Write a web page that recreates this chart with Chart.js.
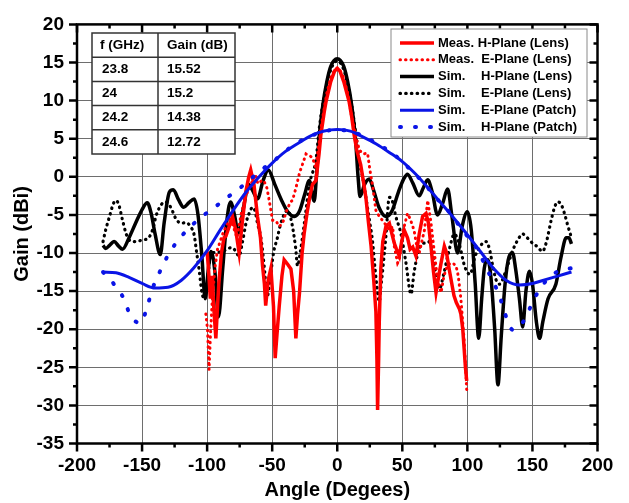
<!doctype html>
<html lang="en">
<head>
<meta charset="utf-8">
<title>Gain vs Angle</title>
<script src="https://cdn.jsdelivr.net/npm/chart.js@4.4.1/dist/chart.umd.min.js"></script>
<style>
  html, body { margin: 0; padding: 0; background: #fff; }
  #wrap { width: 629px; height: 503px; }
</style>
</head>
<body>
<div id="wrap"><canvas id="c" width="629" height="503"></canvas></div>
<script>
// ---- data ----
const freqs = ['23.8', '24', '24.2', '24.6'];
const peakGains = ['15.52', '15.2', '14.38', '12.72'];

// Meas. H-Plane (Lens)
const measHAng = [-100,-99,-97.5,-96,-95,-93.3,-92,-91,-89,-87,-85.6,-83,-80.5,-78,-75.4,-73,-70.3,-68,-66.5,-64,-61.3,-59,-57.4,-56,-55,-53,-51,-49,-47.7,-46,-44.6,-42.5,-40.8,-38,-35.6,-33.5,-31.8,-30.5,-29,-27,-25.4,-23,-21,-19,-16.4,-14,-12.6,-10,-8.7,-5,-2,0,2,5,9.2,11,13,15,18,20,22,24,26,28,29.7,30.5,31,31.8,32.3,33.5,35,37.4,40,42,43.8,45.5,47.7,49.5,51.5,54,56,58,60.5,63,65.6,68.2,70,72,74,75.9,78,79.8,82.3,84,86,88,89.7,91.5,93.8,95,96.4,97.5,98.5,99.5];
const measHGain = [-9.8,-12,-16,-13,-16.9,-21.2,-17,-14,-10,-8,-7.8,-6.5,-5.2,-7,-10,-6,-2,0,0.9,-1,-5.2,-8,-11.7,-14,-16.9,-13.5,-12,-17,-23.8,-20,-17,-13,-10.9,-11.5,-12.1,-15,-21.2,-18,-15.2,-10,-7.4,-4.5,-2.5,-1,-0.5,3,5.5,8.5,9.8,12.5,13.9,14.2,13.9,12.5,9.8,8,5.5,3.5,1.6,-0.5,-2.7,-6,-9.1,-13.5,-17.7,-24,-30.6,-24,-19,-12,-8.5,-6.5,-6.1,-7.5,-8.7,-9.5,-10.4,-8.5,-7,-8,-9.5,-9.2,-10.4,-7.5,-5.2,-4.8,-6,-9.1,-12.5,-15.2,-13,-11.3,-9.1,-10,-12.1,-14,-15.6,-16.5,-17.3,-18,-19.9,-22.5,-25,-26.8];

// Meas. E-Plane (Lens)
const measEAng = [-101,-99.7,-98.5,-97.5,-96,-94,-92,-90,-87,-85,-83,-80,-77,-74,-71,-68,-65,-63,-61,-58,-56.4,-54,-52.3,-49.7,-47,-44.6,-42,-39,-36,-34.4,-31.8,-29,-26,-24,-21.5,-19,-16.5,-14,-11,-8,-5,-2,0,2,5,8,11,14,17,20,23.3,25,27,29.7,32.3,36,40,42.6,43.8,46.4,47.7,50,54,56,59,61,63,65,67,69.5,72,75,77,79.8,82,85,88.7,91.3,93,95,96.4,97.5,98.5,99.5];
const measEGain = [-18,-20,-25.3,-21,-16,-12,-9.5,-8.5,-7,-6.5,-5.2,-6.5,-8,-5,-3,-1.5,-0.5,0.3,-0.9,-0.5,-0.5,-1.5,-3.1,-5.7,-5.8,-6.5,-6.1,-4.5,-3.3,-3.1,-1.5,0.5,2,3,2.8,2.5,1.2,4.5,8,11,13,14,14.3,14,13,11,8,5.5,3.5,3,3.1,1,-1,-4.4,-5.2,-6,-7,-6.5,-9.1,-11.3,-10.9,-7.5,-4.8,-5.5,-7,-9,-10,-8.5,-7,-3.1,-6,-10.5,-13.4,-15.2,-13,-11.5,-11.3,-11.7,-13,-16,-19,-21.5,-24.5,-28];

// Sim. H-Plane (Lens)
const simHAng = [-180,-178,-175,-171.5,-168,-165,-160,-155,-150,-146,-143,-140,-136,-133,-129,-126,-122,-118,-114,-110,-107,-104,-101.5,-99,-97,-94,-91.3,-88,-85,-82,-79,-76,-72,-68,-65,-61.3,-57,-53,-48,-43,-38,-33,-29,-25,-21.5,-17.7,-16,-14,-11,-8,-5,0,5,8,11,14,16,17.5,21,24.6,28,32,37.4,42,47,51,54,58,63,66,69.5,73,77,81,84.8,88,92.5,96,100,103,106,108.7,111,113,115.6,118,121,123.5,126,129,132,134.8,137,140,142.5,145,147.7,150,153,155.5,158,162,168,172,176,178,180];
const simHGain = [-9,-9.4,-9,-8.5,-9.1,-9.5,-8,-6.1,-4.3,-3.4,-4.8,-7.5,-10.2,-6,-2,-1.7,-3,-4,-3.4,-2.9,-5,-10.5,-16,-12,-9.8,-12.5,-18.4,-12,-6,-3.3,-5,-7.4,-4,-1,-1.8,-2.9,-0.5,0.9,-1,-3,-4.6,-5.2,-4.5,-2.3,-0.5,-3.2,0,5,9.5,12.5,14.5,15.5,14.5,12.5,9.5,5,0,-2.6,-1,-0.3,-1.8,-4,-5.2,-4.5,-2,-0.3,0.35,-0.8,-2.5,-1.5,-0.4,-2,-5,-3.5,-1.6,-5,-10,-6.5,-4.6,-7,-14,-21.2,-16,-12,-10.9,-13,-20,-27.3,-21,-14,-10.5,-10,-12,-16,-19.7,-15,-12.4,-14,-19,-21.2,-19,-16,-14.1,-10.5,-8,-8,-8.8];

// Sim. E-Plane (Lens)
const simEAng = [-180,-178,-175,-172,-170,-168,-165,-162,-159,-155,-150,-145,-142,-139,-135,-132,-128,-124,-120,-116,-113,-110,-108,-106,-104,-102,-100,-98,-96,-92,-88,-84,-80.5,-78,-75.4,-73,-70,-67.7,-65,-63,-61.3,-58.7,-56,-54,-52,-49,-46,-44,-41,-38,-35,-32,-30.5,-28.5,-26,-24,-21.5,-19,-16.4,-13.8,-10,-6,-3,0,3,6,10,14,17,20,22,25,27,29,31,32.3,33.5,35,37.4,40,42,45,49,52.8,56.7,59,62,65,67,70,73,76,78.5,82,86,90,94,98,102,106,111.8,114.4,117,119.5,122,124.6,127,130,135,138.7,142.5,146,150,154,157.7,160.5,164.4,167,169.5,172,174.6,177,180];
const simEGain = [-8.5,-7,-5.2,-3.5,-3.1,-3.6,-5.7,-7.6,-8.4,-8.5,-8.3,-8,-7,-5,-3.6,-3.3,-4,-5.5,-6.1,-6,-6.5,-7.6,-10,-12.4,-15.2,-16,-14,-11,-10,-9.9,-9.8,-9.4,-9.3,-9.8,-10.4,-8.7,-6,-4.8,-4,-4.6,-6.1,-8,-12,-15.8,-14,-10,-8,-6.5,-5,-4.4,-6,-9.3,-11.7,-10,-7,-4.4,-1,0.5,2.1,6.4,10.5,13.5,14.8,15.2,14.8,13.5,10.5,6,2,-0.5,-2.7,-6,-8.3,-12,-15.2,-16.4,-14.5,-12.1,-7.8,-2.7,-3,-5.2,-7.5,-11.3,-15.4,-12.6,-10,-8.8,-8.7,-8.5,-9.6,-13,-14.7,-12.6,-9.6,-7.5,-9,-11.8,-12.8,-10.4,-8.7,-8.5,-9.5,-11.7,-13.5,-14.1,-13.5,-12.1,-9.6,-8.3,-7.5,-8,-8.7,-9.2,-9.8,-8.7,-5.7,-4,-3.3,-3.6,-4.8,-6.3,-8];

// Sim. E-Plane (Patch)
const patchEAng = [-180,-170,-160,-150,-140,-130,-120,-110,-100,-90,-80,-70,-60,-50,-40,-30,-20,-10,0,10,20,30,40,50,60,70,80,90,100,110,120,130,140,150,160,170,180];
const patchEGain = [-12.5,-12.6,-13.2,-14,-14.6,-14.5,-13.6,-11.9,-9.7,-7,-4.4,-2,0,1.8,3.3,4.4,5.4,6,6.2,6,5.2,4.3,3.2,2,0.4,-1.5,-3.5,-5.5,-7.6,-9.8,-12,-13.6,-14.2,-14,-13.5,-13,-12.5];

// Sim. H-Plane (Patch)
const patchHAng = [-180,-172,-164,-159,-151,-146,-142,-137,-131,-124,-116,-106,-95,-86,-75,-66,-56,-45,-35,-25,-15,-5,5,15,25,36,48,57,67,75,84,92,100,109,114,120,125,129,135,143,149,155,162,172,180];
const patchHGain = [-12.5,-14,-16,-18.2,-19.2,-17,-14.7,-12.7,-10.6,-8.7,-7.1,-5.5,-4.1,-2.9,-1.5,-0.2,1.2,2.6,4,5,5.7,6.1,6.1,5.7,4.9,3.8,2.3,0.8,-0.9,-2.6,-4.2,-6,-7.8,-9.9,-11.8,-13.8,-15.8,-18,-20.1,-19,-16.9,-14.9,-13.4,-12.2,-12];

const pts = (a, g) => a.map((x, i) => ({ x: x, y: g[i] }));

const FONT = '"Liberation Sans", Arial, sans-serif';

// frame, ticks, inset table and legend box
const decor = {
  id: 'decor',
  afterDatasetsDraw(chart) {
    const { ctx, chartArea: a, scales: { x, y } } = chart;
    ctx.save();
    ctx.strokeStyle = '#000';
    ctx.lineWidth = 2.5;
    ctx.strokeRect(a.left, a.top, a.right - a.left, a.bottom - a.top);

    ctx.beginPath();
    for (let v = -200; v <= 200; v += 25) {
      const px = x.getPixelForValue(v);
      const len = v % 50 === 0 ? 8 : 4;
      ctx.moveTo(px, a.bottom); ctx.lineTo(px, a.bottom + len);
      ctx.moveTo(px, a.top); ctx.lineTo(px, a.top + len);
    }
    for (let v = -35; v <= 20; v += 2.5) {
      const py = y.getPixelForValue(v);
      const len = v % 5 === 0 ? 8 : 4;
      ctx.moveTo(a.left, py); ctx.lineTo(a.left - len, py);
      ctx.moveTo(a.right, py); ctx.lineTo(a.right - len, py);
    }
    ctx.stroke();

    // inset table
    const tx = 92, ty = 33, cw = [66, 77], rh = 24.2;
    ctx.fillStyle = '#fff';
    ctx.fillRect(tx, ty, cw[0] + cw[1], rh * 5);
    ctx.strokeStyle = '#333';
    ctx.lineWidth = 1.5;
    ctx.strokeRect(tx, ty, cw[0] + cw[1], rh * 5);
    ctx.beginPath();
    ctx.moveTo(tx + cw[0], ty); ctx.lineTo(tx + cw[0], ty + rh * 5);
    for (let r = 1; r < 5; r++) { ctx.moveTo(tx, ty + rh * r); ctx.lineTo(tx + cw[0] + cw[1], ty + rh * r); }
    ctx.stroke();
    ctx.fillStyle = '#000';
    ctx.font = 'bold 13.5px ' + FONT;
    ctx.textBaseline = 'middle';
    ctx.textAlign = 'left';
    ctx.fillText('f (GHz)', tx + 8, ty + rh / 2);
    ctx.fillText('Gain (dB)', tx + cw[0] + 9, ty + rh / 2);
    freqs.forEach((f, i) => {
      const cy = ty + rh * (i + 1.5);
      ctx.fillText(f, tx + 10, cy);
      ctx.fillText(peakGains[i], tx + cw[0] + 9, cy);
    });

    // legend
    const lx = 391, ly = 29, lw = 196, lh = 108;
    ctx.fillStyle = '#fff';
    ctx.fillRect(lx, ly, lw, lh);
    ctx.strokeStyle = '#8a8a8a';
    ctx.lineWidth = 1;
    ctx.strokeRect(lx, ly, lw, lh);
    ctx.font = 'bold 13px ' + FONT;
    chart.data.datasets.forEach((ds) => {
      const row = ds.legendRow;
      const cy = 43 + row * 16.8;
      ctx.save();
      ctx.strokeStyle = ds.borderColor;
      ctx.lineWidth = ds.borderWidth;
      ctx.lineCap = ds.borderCapStyle || 'butt';
      ctx.setLineDash(ds.borderDash || []);
      ctx.beginPath();
      ctx.moveTo(400, cy); ctx.lineTo(434, cy);
      ctx.stroke();
      ctx.restore();
      const parts = ds.label.split(' ');
      const lead = parts[0];
      ctx.fillStyle = '#000';
      ctx.fillText(lead, 438, cy);
      let restX = 481;
      if (row === 0) restX = 438 + ctx.measureText(lead + ' ').width;
      if (row === 1) restX = 438 + ctx.measureText(lead + '  ').width;
      ctx.fillText(parts.slice(1).join(' '), restX, cy);
    });
    ctx.restore();
  }
};

const chart = new Chart(document.getElementById('c'), {
  type: 'scatter',
  data: {
    datasets: [
      { label: 'Sim. E-Plane (Patch)', legendRow: 4, data: pts(patchEAng, patchEGain), borderColor: '#0a14e6', borderWidth: 3, cubicInterpolationMode: 'monotone', order: 1 },
      { label: 'Sim. H-Plane (Patch)', legendRow: 5, data: pts(patchHAng, patchHGain), borderColor: '#0a14e6', borderWidth: 4, borderDash: [1, 14], borderCapStyle: 'round', cubicInterpolationMode: 'monotone', order: 2 },
      { label: 'Meas. H-Plane (Lens)', legendRow: 0, data: pts(measHAng, measHGain), borderColor: '#ff0000', borderWidth: 3.5, tension: 0, order: 3 },
      { label: 'Meas. E-Plane (Lens)', legendRow: 1, data: pts(measEAng, measEGain), borderColor: '#ff0000', borderWidth: 3, borderDash: [0.5, 5], borderCapStyle: 'round', tension: 0, order: 4 },
      { label: 'Sim. H-Plane (Lens)', legendRow: 2, data: pts(simHAng, simHGain), borderColor: '#000000', borderWidth: 3.5, cubicInterpolationMode: 'monotone', order: 5 },
      { label: 'Sim. E-Plane (Lens)', legendRow: 3, data: pts(simEAng, simEGain), borderColor: '#000000', borderWidth: 3.2, borderDash: [0.5, 5.2], borderCapStyle: 'round', cubicInterpolationMode: 'monotone', order: 6 }
    ].map(d => Object.assign({ showLine: true, pointRadius: 0, fill: false }, d))
  },
  options: {
    responsive: false,
    animation: false,
    devicePixelRatio: 1,
    layout: { padding: { top: 17, right: 31.5, left: 0, bottom: 0 } },
    plugins: { legend: { display: false }, tooltip: { enabled: false } },
    scales: {
      x: {
        type: 'linear', min: -200, max: 200,
        afterFit(s) { s.height = 59.5; },
        border: { display: false },
        grid: { color: '#6e6e6e', lineWidth: 1, drawTicks: false },
        ticks: { stepSize: 50, padding: 11, color: '#000', font: { family: FONT, size: 19, weight: 'bold' }, maxRotation: 0 },
        title: { display: true, text: 'Angle (Degees)', color: '#000', padding: { top: 0, bottom: 0.5 }, font: { family: FONT, size: 20, weight: 'bold' } }
      },
      y: {
        type: 'linear', min: -35, max: 20,
        afterFit(s) { s.width = 77; },
        border: { display: false },
        grid: { color: '#6e6e6e', lineWidth: 1, drawTicks: false },
        ticks: { stepSize: 5, padding: 13, color: '#000', font: { family: FONT, size: 19, weight: 'bold' } },
        title: { display: true, text: 'Gain (dBi)', color: '#000', padding: { top: 10, bottom: 0 }, font: { family: FONT, size: 20, weight: 'bold' } }
      }
    }
  },
  plugins: [decor]
});
</script>
</body>
</html>
